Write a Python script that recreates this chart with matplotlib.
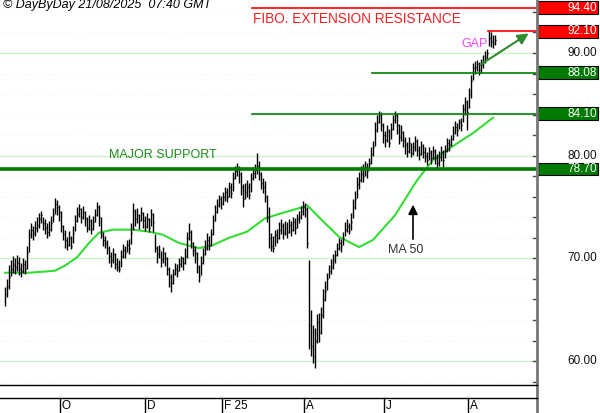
import numpy as np
import matplotlib
matplotlib.use('Agg')
import matplotlib.pyplot as plt
from matplotlib.transforms import blended_transform_factory
from matplotlib.lines import Line2D
from matplotlib.patches import Rectangle

plt.rcParams['font.family'] = ['Liberation Sans', 'DejaVu Sans']

# daily bars, one entry per session (late Aug 2024 .. 21 Aug 2025)
closes = [66.5, 67.3, 68.2, 69.0, 69.4, 69.2, 69.6, 69.0, 68.8, 69.5,
          69.0, 70.5, 72.3, 72.8, 72.5, 73.0, 73.3, 73.8, 74.2, 73.4,
          73.0, 72.6, 72.9, 73.4, 74.2, 75.3, 75.0, 74.5, 73.2, 72.4,
          71.8, 71.3, 72.0, 71.2, 72.5, 73.6, 74.3, 74.8, 74.0, 74.5,
          73.8, 73.0, 73.6, 72.9, 73.5, 74.2, 75.0, 74.0, 72.3, 71.8,
          71.5, 71.0, 70.2, 69.8, 70.4, 69.5, 69.2, 69.0, 70.2, 70.8,
          70.5, 71.3, 71.0, 72.5, 74.6, 73.8, 74.2, 73.6, 74.4, 73.7,
          73.2, 73.8, 73.0, 74.3, 73.5, 71.0, 70.4, 70.8, 69.9, 70.5,
          70.0, 69.0, 68.2, 67.6, 68.5, 69.0, 68.8, 69.5, 70.0, 69.6,
          70.2, 72.0, 72.6, 71.5, 70.8, 70.5, 69.2, 68.3, 69.6, 70.4,
          71.0, 71.8, 71.3, 72.4, 73.6, 74.5, 75.2, 75.8, 75.4, 76.0,
          76.5, 76.0, 77.0, 76.4, 77.8, 78.5, 78.8, 78.2, 77.0, 75.8,
          76.5, 77.0, 76.2, 77.8, 78.3, 78.6, 79.0, 78.2, 77.3, 77.0,
          76.0, 74.0, 72.0, 71.2, 71.0, 72.3, 72.0, 72.8, 73.2, 72.5,
          73.0, 72.6, 73.3, 72.8, 73.5, 73.0, 73.8, 74.0, 74.6, 75.0,
          74.8, 71.5, 63.5, 61.5, 60.5, 62.0, 63.8, 62.8, 64.5, 66.0,
          66.8, 68.0, 68.8, 69.2, 69.8, 70.3, 71.0, 71.5, 71.2, 72.0,
          72.8, 73.2, 72.7, 73.5, 75.0, 75.8, 77.2, 77.6, 78.2, 78.0,
          78.8, 78.5, 79.3, 80.2, 80.8, 82.5, 83.3, 84.0, 83.0, 82.0,
          81.5, 82.4, 81.2, 82.6, 83.5, 84.0, 83.0, 81.8, 82.3, 81.5,
          81.0, 80.5, 81.2, 80.3, 80.8, 81.4, 80.6, 80.2, 80.9, 80.4,
          80.0, 79.6, 80.3, 79.8, 80.5, 79.8, 79.3, 79.9, 80.4, 79.6,
          80.5, 81.2, 81.0, 81.6, 82.3, 82.8, 82.5, 83.3, 83.0, 84.5,
          85.2, 84.3, 86.0, 87.3, 88.5, 88.6, 88.9, 88.3, 88.8, 89.2,
          89.6, 90.0, 91.5, 91.2, 91.0, 91.3]
highs = [67.2, 68.0, 69.4, 69.8, 70.2, 70.0, 70.3, 70.1, 69.6, 70.0,
         69.8, 71.2, 72.9, 73.4, 73.2, 73.6, 74.0, 74.4, 74.6, 74.0,
         73.8, 73.4, 73.6, 74.1, 74.9, 75.9, 75.7, 75.2, 74.6, 73.3,
         72.8, 72.1, 72.7, 72.2, 73.2, 74.2, 75.0, 75.3, 74.9, 75.1,
         74.6, 74.0, 74.2, 73.8, 74.1, 74.8, 75.5, 75.2, 74.0, 72.6,
         72.2, 71.8, 71.2, 70.6, 71.0, 70.5, 70.0, 69.8, 70.8, 71.4,
         71.2, 71.8, 71.9, 73.4, 75.4, 74.8, 74.9, 74.3, 75.0, 74.5,
         74.1, 74.4, 73.9, 74.8, 74.4, 72.4, 71.2, 71.3, 70.7, 71.1,
         70.6, 70.1, 69.2, 68.5, 69.0, 69.6, 69.5, 70.0, 70.2, 70.1,
         71.0, 72.6, 73.4, 72.8, 71.6, 71.2, 70.6, 69.4, 70.2, 71.0,
         71.8, 72.5, 72.2, 72.9, 74.2, 75.2, 75.8, 76.2, 76.1, 76.5,
         77.0, 76.9, 77.4, 77.3, 78.4, 79.0, 79.3, 79.0, 78.4, 77.2,
         77.3, 77.6, 77.3, 78.3, 78.9, 79.2, 80.3, 79.5, 78.4, 77.8,
         77.5, 76.2, 75.0, 72.5, 72.2, 72.8, 72.9, 73.5, 73.8, 73.4,
         73.6, 73.5, 73.8, 73.6, 74.0, 73.9, 74.3, 74.6, 75.1, 75.6,
         75.4, 75.0, 69.8, 65.0, 63.5, 63.2, 64.6, 64.7, 65.3, 67.0,
         67.8, 68.6, 69.4, 69.9, 70.4, 70.8, 71.5, 72.0, 71.9, 72.6,
         73.5, 73.8, 73.4, 74.4, 75.8, 76.6, 77.9, 78.4, 79.0, 79.2,
         79.5, 79.3, 79.8, 80.8, 81.4, 83.3, 84.0, 84.4, 84.3, 83.2,
         82.4, 83.0, 82.6, 83.2, 84.0, 84.4, 84.2, 83.1, 83.0, 82.4,
         81.8, 81.3, 81.8, 81.2, 81.3, 81.9, 81.6, 80.9, 81.4, 81.1,
         80.8, 80.4, 80.8, 80.6, 80.9, 80.7, 80.2, 80.5, 80.9, 80.6,
         81.0, 81.7, 81.6, 82.0, 82.9, 83.4, 83.2, 83.6, 83.7, 85.0,
         85.7, 85.4, 86.6, 87.9, 89.0, 89.2, 89.3, 89.1, 89.4, 89.8,
         90.2, 90.4, 92.1, 92.0, 91.8, 91.8]
lows = [65.4, 66.2, 67.0, 68.3, 68.6, 68.5, 68.8, 68.4, 68.2, 68.6,
        68.5, 69.0, 70.6, 72.0, 71.8, 72.2, 72.6, 73.0, 73.4, 72.8,
        72.4, 72.0, 72.2, 72.7, 73.5, 74.3, 74.2, 73.6, 72.6, 71.8,
        71.0, 70.8, 71.2, 70.9, 71.5, 72.7, 73.5, 74.0, 73.4, 73.8,
        73.2, 72.6, 72.8, 72.4, 72.8, 73.5, 74.1, 73.2, 72.0, 71.2,
        71.0, 70.4, 69.6, 69.2, 69.6, 69.0, 68.8, 68.7, 69.2, 70.0,
        70.0, 70.6, 70.4, 71.4, 72.8, 73.2, 73.4, 72.9, 73.6, 73.0,
        72.7, 73.0, 72.6, 73.2, 72.6, 70.6, 69.6, 70.0, 69.2, 69.6,
        69.3, 68.4, 67.2, 66.7, 67.5, 68.4, 68.2, 68.8, 69.2, 68.9,
        69.5, 70.0, 71.8, 71.0, 70.2, 69.6, 68.6, 67.7, 68.4, 69.5,
        70.3, 70.8, 70.8, 71.2, 72.3, 73.6, 74.4, 75.0, 74.8, 75.2,
        75.6, 75.5, 76.0, 75.9, 76.6, 77.7, 78.0, 77.3, 76.2, 75.0,
        75.8, 76.0, 75.8, 76.5, 77.6, 77.8, 78.2, 77.6, 76.8, 76.4,
        75.5, 73.5, 71.0, 70.7, 70.6, 71.2, 71.5, 71.9, 72.4, 71.9,
        72.3, 72.0, 72.5, 72.2, 72.7, 72.4, 73.0, 73.4, 73.8, 74.2,
        74.0, 71.0, 61.2, 60.5, 59.8, 59.3, 61.8, 61.9, 62.6, 64.2,
        65.9, 66.9, 68.1, 68.5, 69.0, 69.6, 70.2, 70.8, 70.6, 71.3,
        72.2, 72.6, 72.4, 72.8, 73.9, 74.8, 75.9, 76.8, 77.4, 77.4,
        78.0, 77.8, 78.6, 79.2, 80.0, 80.9, 82.3, 83.2, 82.4, 81.2,
        80.8, 81.3, 80.8, 81.6, 82.5, 83.2, 82.1, 81.1, 81.4, 80.8,
        80.2, 79.9, 80.3, 79.9, 80.1, 80.5, 80.0, 79.6, 80.1, 79.8,
        79.4, 79.1, 79.6, 79.2, 79.7, 79.2, 78.8, 79.0, 79.5, 78.9,
        79.8, 80.4, 80.5, 80.9, 81.5, 82.1, 81.9, 82.6, 82.4, 83.3,
        84.0, 82.5, 84.6, 85.6, 87.4, 88.0, 88.2, 87.9, 88.1, 88.5,
        89.0, 89.3, 90.7, 90.6, 90.5, 90.8]

# 50-day moving average, read at a few bar positions
ma_idx = [0, 12, 25, 30, 36, 42, 47, 54, 64, 72, 79, 87, 97, 104, 112,
          121, 130, 140, 149, 151, 157, 167, 177, 184, 195, 206, 214, 226, 234, 244]
ma_val = [68.6, 68.6, 68.8, 69.3, 70.1, 71.5, 72.5, 72.8, 72.8, 72.6, 72.3, 71.5,
          71.0, 71.3, 72.0, 72.6, 73.9, 74.5, 75.0, 75.2, 74.0, 72.1, 71.1, 71.8,
          74.2, 77.6, 79.6, 81.2, 82.2, 83.7]

months = ['O', 'D', 'F 25', 'A', 'J', 'A']
month_pos = [27.5, 70, 108.5, 149.5, 189.5, 231.5]

grid_levels = [60, 70, 80, 90]
res_levels = [94.40, 92.10]
res_start = [123.5, 241.5]
sup_levels = [88.08, 84.10]
sup_start = [183.5, 123.5]
major_support = 78.70

W, H = 600, 413
fig = plt.figure(figsize=(W / 100, H / 100), dpi=100)
fig.patch.set_facecolor('white')
ax = fig.add_axes([0, 1 - 384 / H, 537 / W, 384 / H])
ax.set_xlim(-2.5, 266)
ax.set_ylim(57.77, 95.16)
for s in ax.spines.values():
    s.set_visible(False)
ax.set_xticks([])
ax.set_yticks([])

# faint dotted background
for yv in np.arange(58, 96, 2):
    ax.axhline(yv, color='#e6e6e6', lw=0.6, ls=(0, (1, 4)), zorder=0)
for gl in grid_levels:
    ax.axhline(gl, color='#c9f2c9', lw=1.0, zorder=1)

idx = np.arange(len(closes))
ax.vlines(idx, lows, highs, color='black', lw=1.0, zorder=3)
ax.hlines(closes, idx, idx + 0.7, color='black', lw=1.0, zorder=3)

ax.plot(ma_idx, ma_val, color='#33dd33', lw=1.5, zorder=2)

# levels
for lv, st in zip(res_levels, res_start):
    ax.plot([st, 266], [lv, lv], color='#ff0000', lw=1.2, zorder=4)
for lv, st in zip(sup_levels, sup_start):
    ax.plot([st, 266], [lv, lv], color='#008000', lw=1.2, zorder=4)
ax.plot([-2.5, 266], [major_support] * 2, color='#007a00', lw=2.6, zorder=4)

ax.text(124, 94.0, 'FIBO. EXTENSION RESISTANCE', color='#ee2222', fontsize=9.8,
        va='top', ha='left')
ax.text(52, 79.45, 'MAJOR SUPPORT', color='#1f8a1f', fontsize=9, va='bottom', ha='left')
ax.text(228, 90.3, 'GAP', color='#ff44ff', fontsize=9, va='bottom', ha='left')
ax.text(191.5, 70.2, 'MA 50', color='#333333', fontsize=9, va='bottom', ha='left')

ax.annotate('', xy=(263, 92.05), xytext=(236.5, 88.7),
            arrowprops=dict(arrowstyle='-|>', color='#2e8b2e', lw=1.5, mutation_scale=16),
            zorder=5)
ax.annotate('', xy=(204, 75.5), xytext=(204, 71.6),
            arrowprops=dict(arrowstyle='-|>', color='black', lw=1.2, mutation_scale=14),
            zorder=5)

fig.text(3 / W, 1 - 5 / H, '\u00a9 DayByDay 21/08/2025  07:40 GMT', fontsize=9,
         style='italic', va='center', ha='left', color='black')

# right price scale
tr = blended_transform_factory(fig.transFigure, ax.transData)
xs = 537 / W
for yv in np.arange(58, 96, 2):
    ax.plot([264, 266], [yv, yv], color='#444444', lw=1, clip_on=False, zorder=6)
for gl in grid_levels:
    fig.text(597 / W, gl, '%.2f' % gl, transform=tr, fontsize=8.5, ha='right',
             va='center', color='#111111')
boxes = [(lv, '#ff0000') for lv in res_levels] + \
        [(lv, '#007a00') for lv in sup_levels + [major_support]]
for lv, col in boxes:
    fig.patches.append(Rectangle((538 / W, lv - 0.62), 60 / W, 1.24, transform=tr,
                                 facecolor=col, edgecolor='black', lw=0.8))
    fig.text(597 / W, lv, '%.2f' % lv, transform=tr, fontsize=8.5, ha='right',
             va='center', color='white')
fig.add_artist(Line2D([xs, xs], [0, 1], transform=fig.transFigure, color='#777777', lw=2))

# bottom strip and month axis
for yp in [385, 398]:
    fig.add_artist(Line2D([0, xs], [1 - yp / H] * 2, transform=fig.transFigure,
                          color='black', lw=1))
trx = blended_transform_factory(ax.transData, fig.transFigure)
for lab, pos in zip(months, month_pos):
    fig.add_artist(Line2D([pos, pos], [0, 1 - 398 / H], transform=trx, color='black', lw=1))
    fig.text(pos + 1, 1 - 406 / H, lab, transform=trx, fontsize=8.5, va='center',
             ha='left', color='black')

fig.savefig('out.png', dpi=100)
